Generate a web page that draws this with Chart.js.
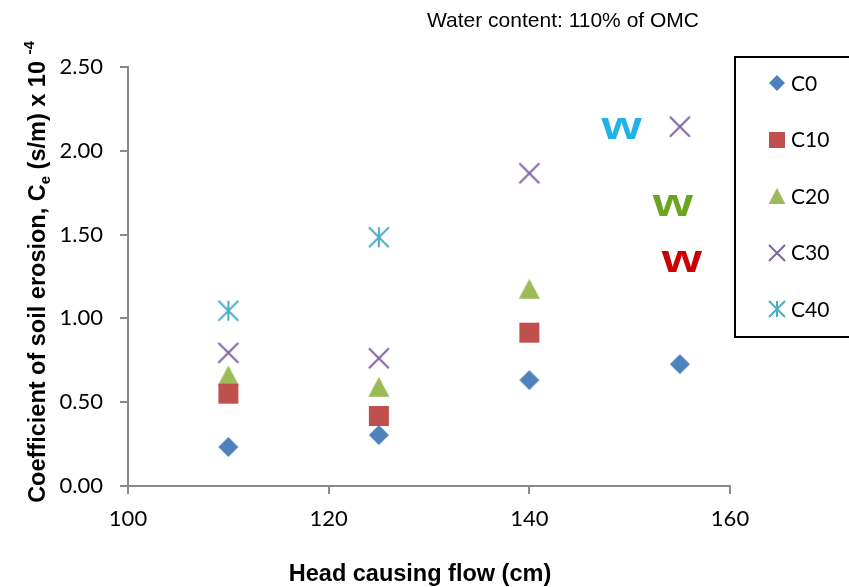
<!DOCTYPE html>
<html>
<head>
<meta charset="utf-8">
<title>Coefficient of soil erosion vs head</title>
<script src="https://cdn.jsdelivr.net/npm/chart.js@4.4.1/dist/chart.umd.min.js"></script>
<style>
  html, body { margin: 0; padding: 0; background: #ffffff; }
  canvas { display: block; }
</style>
</head>
<body>
<canvas id="chart" width="849" height="587"></canvas>
<script>
// Head causing flow (cm) at which each mix was tested
const headCm = [110, 125, 140, 155];

// Coefficient of soil erosion, Ce (s/m) x 10^-4, per mix
const seriesNames = ['C0', 'C10', 'C20', 'C30', 'C40'];
const ceC0  = [0.233, 0.304, 0.632, 0.727];
const ceC10 = [0.551, 0.418, 0.915];
const ceC20 = [0.660, 0.592, 1.177];
const ceC30 = [0.795, 0.762, 1.866, 2.144];
const ceC40 = [1.046, 1.484];

// Axis ticks
const xTicks = [100, 120, 140, 160];
const yTicks = [0, 0.5, 1.0, 1.5, 2.0, 2.5];

// "w" flags placed in data space (head, Ce)
const flagHead = [149.2, 154.3, 155.2];
const flagCe   = [2.128, 1.671, 1.338];

const flagColors = ['#1FB3EA', '#6BA51F', '#CC0000'];
const seriesColors = ['#4F81BD', '#C0504D', '#9BBB59', '#8064A2', '#4BACC6'];
const seriesShapes = ['diamond', 'square', 'triangle', 'cross', 'star'];
const seriesValues = [ceC0, ceC10, ceC20, ceC30, ceC40];

// Marker bitmaps (Excel-like shapes), centred on the point
function makeMarker(kind, color, size) {
  const pad = 3;
  const c = document.createElement('canvas');
  c.width = c.height = size + pad * 2;
  const g = c.getContext('2d');
  const m = c.width / 2, h = size / 2;
  g.fillStyle = color;
  g.strokeStyle = color;
  g.lineWidth = 2;
  g.beginPath();
  switch (kind) {
    case 'diamond':
      g.moveTo(m, m - h); g.lineTo(m + h, m); g.lineTo(m, m + h); g.lineTo(m - h, m);
      g.closePath(); g.fill();
      break;
    case 'square':
      g.fillRect(m - h, m - h, size, size);
      break;
    case 'triangle':
      g.moveTo(m, m - h); g.lineTo(m + h * 1.05, m + h); g.lineTo(m - h * 1.05, m + h);
      g.closePath(); g.fill();
      break;
    case 'cross':
      g.moveTo(m - h, m - h); g.lineTo(m + h, m + h);
      g.moveTo(m + h, m - h); g.lineTo(m - h, m + h);
      g.stroke();
      break;
    case 'star':
      g.moveTo(m, m - h); g.lineTo(m, m + h);
      g.moveTo(m - h, m - h); g.lineTo(m + h, m + h);
      g.moveTo(m + h, m - h); g.lineTo(m - h, m + h);
      g.stroke();
      break;
  }
  return c;
}

const plotMarkers = seriesShapes.map((s, i) => makeMarker(s, seriesColors[i], 20));
const legendMarkers = seriesShapes.map((s, i) => makeMarker(s, seriesColors[i], 16));

const datasets = seriesNames.map((name, i) => ({
  label: name,
  data: seriesValues[i].map((v, k) => ({ x: headCm[k], y: v })),
  pointStyle: plotMarkers[i],
  pointRadius: 10,
  pointHoverRadius: 10,
  showLine: false,
  backgroundColor: seriesColors[i],
  borderColor: seriesColors[i]
}));

const SANS = '"Liberation Sans", Arial, sans-serif';

// Titles, "w" flags and the boxed legend
const decorations = {
  id: 'decorations',
  afterDraw(chart) {
    const ctx = chart.ctx;
    const xs = chart.scales.x, ys = chart.scales.y;
    ctx.save();

    // Header note
    ctx.fillStyle = '#000';
    ctx.font = '21px ' + SANS;
    ctx.textAlign = 'center';
    ctx.textBaseline = 'middle';
    ctx.fillText('Water content: 110% of OMC', 563, 21);

    // X axis title
    ctx.font = 'bold 23.5px ' + SANS;
    ctx.fillText('Head causing flow (cm)', 420, 575);

    // Y axis title with subscript and superscript
    const parts = [
      { t: 'Coefficient of soil erosion, C', f: 'bold 23.5px ' + SANS, dy: 0 },
      { t: 'e', f: 'bold 15px ' + SANS, dy: 5 },
      { t: ' (s/m) x 10 ', f: 'bold 23.5px ' + SANS, dy: 0 },
      { t: '-4', f: 'bold 15px ' + SANS, dy: -11 }
    ];
    let total = 0;
    parts.forEach(p => { ctx.font = p.f; p.w = ctx.measureText(p.t).width; total += p.w; });
    ctx.translate(45, 272);
    ctx.rotate(-Math.PI / 2);
    ctx.textAlign = 'left';
    ctx.textBaseline = 'alphabetic';
    let px = -total / 2;
    parts.forEach(p => { ctx.font = p.f; ctx.fillText(p.t, px, p.dy); px += p.w; });
    ctx.setTransform(1, 0, 0, 1, 0, 0);

    // "w" flags
    const fs = 38;
    ctx.font = 'bold ' + fs + 'px ' + SANS;
    ctx.textAlign = 'center';
    ctx.textBaseline = 'alphabetic';
    flagHead.forEach((hx, i) => {
      const cx = xs.getPixelForValue(hx);
      const cy = ys.getPixelForValue(flagCe[i]);
      ctx.save();
      ctx.translate(cx, cy + 0.26 * fs);
      ctx.scale(1.36, 1);
      ctx.fillStyle = flagColors[i];
      ctx.fillText('w', 0, 0);
      ctx.restore();
    });

    // Legend box
    ctx.strokeStyle = '#000';
    ctx.lineWidth = 2;
    ctx.strokeRect(735, 57, 140, 280);
    ctx.fillStyle = '#000';
    ctx.font = '21px Lato, sans-serif';
    ctx.textAlign = 'left';
    ctx.textBaseline = 'middle';
    seriesNames.forEach((name, i) => {
      const y = 83 + i * 56.5;
      const img = legendMarkers[i];
      ctx.drawImage(img, Math.round(777 - img.width / 2), Math.round(y - img.height / 2));
      ctx.fillText(name, 791, y + 1);
    });
    ctx.restore();
  }
};

Chart.defaults.font.family = 'Lato, sans-serif';
Chart.defaults.color = '#000';

new Chart(document.getElementById('chart'), {
  type: 'scatter',
  data: { datasets },
  options: {
    responsive: false,
    animation: false,
    events: [],
    layout: { padding: { left: 0, right: 119, top: 67, bottom: 0 } },
    plugins: {
      legend: { display: false },
      title: { display: false },
      tooltip: { enabled: false }
    },
    scales: {
      x: {
        type: 'linear',
        min: 100,
        max: 160,
        afterFit: s => { s.height = 101; },
        afterBuildTicks: s => { s.ticks = xTicks.map(v => ({ value: v })); },
        ticks: { font: { size: 22 }, padding: 12, color: '#000', maxRotation: 0 },
        grid: { drawOnChartArea: false, drawTicks: true, tickLength: 8, color: '#898989', lineWidth: 2 },
        border: { display: true, color: '#898989', width: 2 }
      },
      y: {
        type: 'linear',
        min: 0,
        max: 2.5,
        afterFit: s => { s.width = 128; },
        afterBuildTicks: s => { s.ticks = yTicks.map(v => ({ value: v })); },
        ticks: { font: { size: 22 }, padding: 17, color: '#000', callback: v => Number(v).toFixed(2) },
        grid: { drawOnChartArea: false, drawTicks: true, tickLength: 8, color: '#898989', lineWidth: 2 },
        border: { display: true, color: '#898989', width: 2 }
      }
    }
  },
  plugins: [decorations]
});
</script>
</body>
</html>
